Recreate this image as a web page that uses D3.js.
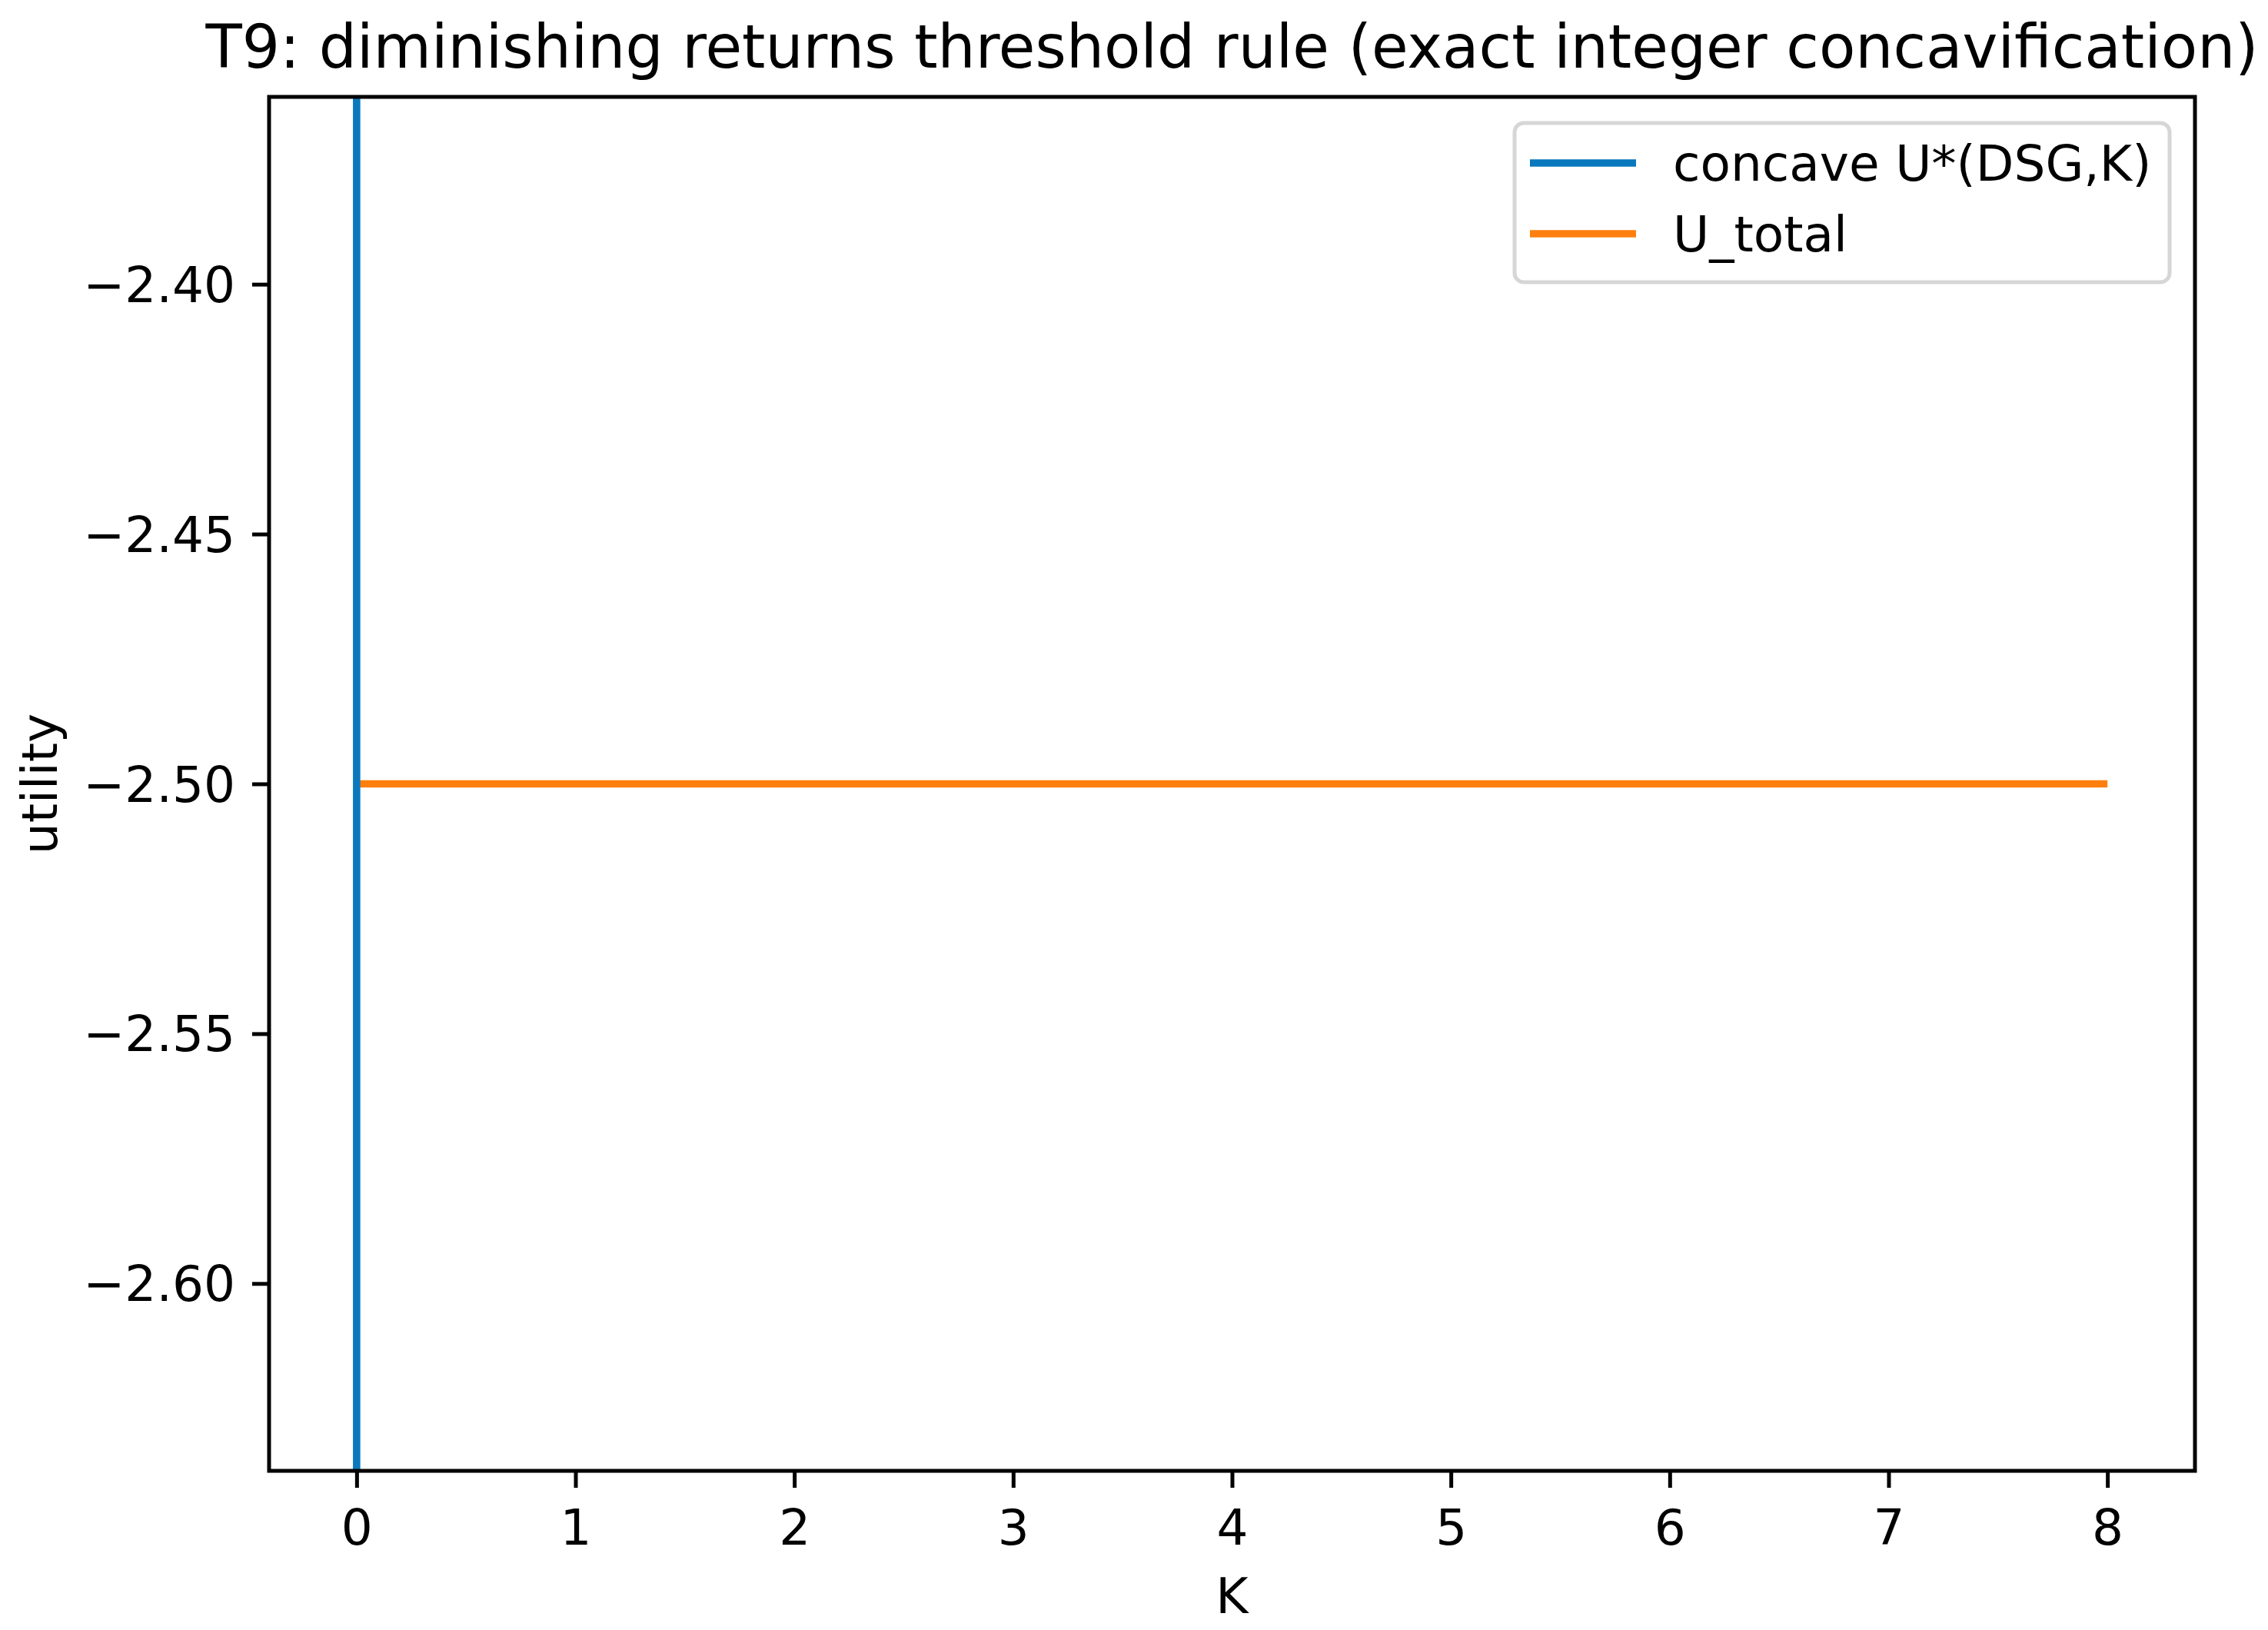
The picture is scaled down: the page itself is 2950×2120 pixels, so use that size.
<!DOCTYPE html>
<html>
<head>
<meta charset="utf-8">
<script src="https://cdn.jsdelivr.net/npm/d3@7"></script>
<style>
  html, body { margin: 0; padding: 0; background: #fff; }
  svg { display: block; }
  text { font-family: "DejaVu Sans", sans-serif; fill: #000; }
</style>
</head>
<body>
<script>
// ---- data ----
const titleText = "T9: diminishing returns threshold rule (exact integer concavification)";
const xLabel = "K";
const yLabel = "utility";
const kValues = [0, 1, 2, 3, 4, 5, 6, 7, 8];
const uTotal = [-2.5, -2.5, -2.5, -2.5, -2.5, -2.5, -2.5, -2.5, -2.5];
// concave U*(DSG,K): vertical line at K = 0 spanning the whole axis
const concaveK = [0, 0];
const concaveU = [-2.6375, -2.3625];
const xTicks = [0, 1, 2, 3, 4, 5, 6, 7, 8];
const yTicks = [-2.60, -2.55, -2.50, -2.45, -2.40];
const xDomain = [-0.4, 8.4];
const yDomain = [-2.6375, -2.3625];
const seriesNames = ["concave U*(DSG,K)", "U_total"];
const seriesColors = ["#0a78bd", "#ff7f0e"];

// ---- layout ----
const W = 2950, H = 2120;
const L = 350, R = 2855, T = 126, B = 1913;
const fs = 64.5, titleFs = 77.5;
const lw = 9.6, spineW = 5, tickLen = 22;

const svg = d3.select("body").append("svg").attr("width", W).attr("height", H);
svg.append("rect").attr("width", W).attr("height", H).attr("fill", "#fff");

const x = d3.scaleLinear().domain(xDomain).range([L, R]);
const y = d3.scaleLinear().domain(yDomain).range([B, T]);

svg.append("defs").append("clipPath").attr("id", "clip")
  .append("rect").attr("x", L).attr("y", T).attr("width", R - L).attr("height", B - T);

const line = d3.line().x(d => x(d[0])).y(d => y(d[1]));
const plot = svg.append("g").attr("clip-path", "url(#clip)");

plot.append("path")
  .attr("d", line(kValues.map((k, i) => [k, uTotal[i]])))
  .attr("fill", "none").attr("stroke", seriesColors[1]).attr("stroke-width", lw)
  .attr("stroke-linecap", "butt");
plot.append("path")
  .attr("d", line(concaveK.map((k, i) => [k, concaveU[i]])))
  .attr("fill", "none").attr("stroke", seriesColors[0]).attr("stroke-width", lw)
  .attr("stroke-linecap", "butt");

// axes
const fmtY = d => d3.format(".2f")(d).replace("-", "\u2212");
const xAxis = d3.axisBottom(x).tickValues(xTicks).tickFormat(d3.format("d"))
  .tickSizeInner(tickLen).tickSizeOuter(0).tickPadding(20);
const yAxis = d3.axisLeft(y).tickValues(yTicks).tickFormat(fmtY)
  .tickSizeInner(tickLen).tickSizeOuter(0).tickPadding(20);

const gx = svg.append("g").attr("transform", `translate(0,${B})`).call(xAxis);
const gy = svg.append("g").attr("transform", `translate(${L},0)`).call(yAxis);
[gx, gy].forEach(g => {
  g.select(".domain").remove();
  g.selectAll(".tick line").attr("stroke", "#000").attr("stroke-width", spineW);
  g.selectAll(".tick text").attr("font-size", fs).attr("font-family", "DejaVu Sans").attr("fill", "#000");
});
gx.selectAll(".tick text").attr("dy", null)
  .attr("y", 2009 - B);
gy.selectAll(".tick text").attr("dy", "0.35em").attr("x", -(L - 306));

// spines
svg.append("rect").attr("x", L).attr("y", T).attr("width", R - L).attr("height", B - T)
  .attr("fill", "none").attr("stroke", "#000").attr("stroke-width", spineW)
  .attr("stroke-linejoin", "miter");

// labels
svg.append("text").attr("x", (L + R) / 2).attr("y", 88).attr("text-anchor", "middle")
  .attr("font-size", titleFs).text(titleText);
svg.append("text").attr("x", (L + R) / 2).attr("y", 2098).attr("text-anchor", "middle")
  .attr("font-size", fs).text(xLabel);
svg.append("text").attr("transform", `translate(74,${(T + B) / 2}) rotate(-90)`)
  .attr("text-anchor", "middle").attr("font-size", fs).text(yLabel);

// legend
const lg = svg.append("g");
lg.append("rect").attr("x", 1970).attr("y", 160).attr("width", 852).attr("height", 207)
  .attr("rx", 12).attr("ry", 12).attr("fill", "#fff").attr("fill-opacity", 0.8)
  .attr("stroke", "#d6d6d6").attr("stroke-width", 5);
const legendY = [212, 304];
seriesNames.forEach((name, i) => {
  lg.append("line").attr("x1", 1990).attr("x2", 2128)
    .attr("y1", legendY[i]).attr("y2", legendY[i])
    .attr("stroke", seriesColors[i]).attr("stroke-width", lw);
  lg.append("text").attr("x", 2176).attr("y", legendY[i]).attr("dy", "0.35em")
    .attr("font-size", fs).text(name);
});
</script>
</body>
</html>
